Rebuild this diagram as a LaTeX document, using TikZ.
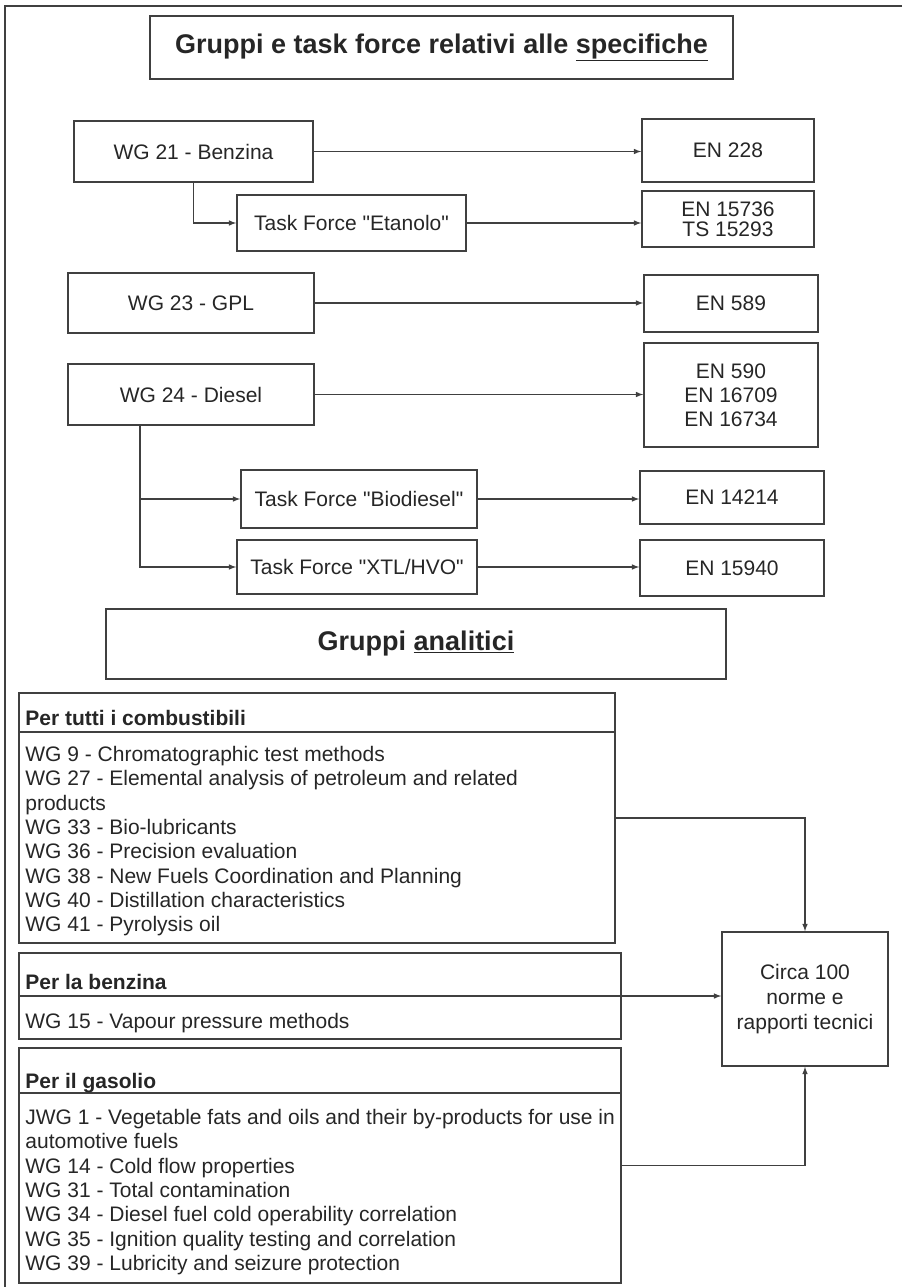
\documentclass[tikz,border=0pt]{standalone}
\usepackage{fontspec}
\setmainfont{Liberation Sans}[Ligatures=TeXOff]
\usepackage{tikz}
\usetikzlibrary{positioning}

\begin{document}
\begin{tikzpicture}[x=1pt,y=-1pt,
  box/.style={draw=black!75,line width=1.6pt,inner sep=0pt,align=center,text=black!85,font=\fontsize{21}{24}\selectfont},
  titlebox/.style={box,font=\fontsize{27}{30}\selectfont\bfseries},
  grpbox/.style={draw=black!75,line width=1.6pt,inner sep=0pt},
  headtext/.style={inner sep=0pt,anchor=base west,text=black!85,font=\fontsize{21}{24}\selectfont\bfseries},
  listtext/.style={inner sep=0pt,anchor=north west,align=left,text=black!85,font=\fontsize{21}{24.3}\selectfont},
  conn/.style={draw=black!75,line width=1.5pt,-latex}]
\useasboundingbox (0,0) rectangle (902,1287);
\draw[black!75,line width=1.8pt] (902,6) -- (5,6) -- (5,1287);

% specifiche
\node[titlebox,minimum width=583pt,minimum height=63pt] (tit1) at (441.5,47.5) {Gruppi e task force relativi alle \underline{specifiche}};
\node[box,minimum width=239pt,minimum height=61pt] (wg21) at (193.5,151.5) {WG 21 - Benzina};
\node[box,minimum width=172pt,minimum height=63pt] (en228) at (728,150.5) {EN 228};
\node[box,minimum width=229pt,minimum height=56pt] (tfeta) at (351.5,223) {Task Force "Etanolo"};
\node[box,minimum width=172pt,minimum height=56pt,font=\fontsize{21}{20}\selectfont] (en15736) at (728,219) {EN 15736\\TS 15293};
\node[box,minimum width=246pt,minimum height=60pt] (wg23) at (191,303) {WG 23 - GPL};
\node[box,minimum width=174pt,minimum height=57pt] (en589) at (731,303.5) {EN 589};
\node[box,minimum width=246pt,minimum height=61pt] (wg24) at (191,394.5) {WG 24 - Diesel};
\node[box,minimum width=174pt,minimum height=104pt] (en590) at (731,395) {EN 590\\EN 16709\\EN 16734};
\node[box,minimum width=236pt,minimum height=58pt] (tfbio) at (359,499) {Task Force "Biodiesel"};
\node[box,minimum width=184pt,minimum height=53pt] (en14214) at (732,497.5) {EN 14214};
\node[box,minimum width=240pt,minimum height=54pt] (tfxtl) at (357,567) {Task Force "XTL/HVO"};
\node[box,minimum width=184pt,minimum height=56pt] (en15940) at (732,568) {EN 15940};

\draw[conn] (wg21.east) -- (wg21.east -| en228.west);
\draw[conn] (wg21.south) |- (tfeta.west);
\draw[conn] (tfeta.east) -- (tfeta.east -| en15736.west);
\draw[conn] (wg23.east) -- (wg23.east -| en589.west);
\draw[conn] (wg24.east) -- (wg24.east -| en590.west);
\draw[conn] ([xshift=-51pt]wg24.south) |- (tfbio.west);
\draw[conn] ([xshift=-51pt]wg24.south) |- (tfxtl.west);
\draw[conn] (tfbio.east) -- (tfbio.east -| en14214.west);
\draw[conn] (tfxtl.east) -- (tfxtl.east -| en15940.west);

% analitici
\node[titlebox,minimum width=620pt,minimum height=70pt] (tit2) at (416,644) {Gruppi \underline{analitici}};
\node[grpbox,minimum width=596pt,minimum height=250pt] (grp1) at (317,818) {};
\node[grpbox,minimum width=602pt,minimum height=86pt] (grp2) at (320,996) {};
\node[grpbox,minimum width=602pt,minimum height=235pt] (grp3) at (320,1165.5) {};
\node[box,minimum width=166pt,minimum height=134pt,font=\fontsize{21}{25}\selectfont] (circa) at (805,999) {Circa 100\\norme e\\rapporti tecnici};

\coordinate (sep1) at ([yshift=-40pt]grp1.north west);
\coordinate (sep2) at ([yshift=-44pt]grp2.north west);
\coordinate (sep3) at ([yshift=-46pt]grp3.north west);
\draw[black!75,line width=1.6pt] (sep1) -- (sep1 -| grp1.east);
\draw[black!75,line width=1.6pt] (sep2) -- (sep2 -| grp2.east);
\draw[black!75,line width=1.6pt] (sep3) -- (sep3 -| grp3.east);

\node[headtext] (head1) at ([shift={(7pt,7pt)}]sep1) {Per tutti i combustibili};
\node[headtext] (head2) at ([shift={(7pt,7pt)}]sep2) {Per la benzina};
\node[headtext] (head3) at ([shift={(7pt,5pt)}]sep3) {Per il gasolio};
\node[listtext,below right=14pt and 7pt of sep1] (list1) {WG 9 - Chromatographic test methods\\
WG 27 - Elemental analysis of petroleum and related\\products\\
WG 33 - Bio-lubricants\\WG 36 - Precision evaluation\\
WG 38 - New Fuels Coordination and Planning\\
WG 40 - Distillation characteristics\\WG 41 - Pyrolysis oil};
\node[listtext,below right=17pt and 7pt of sep2] (list2) {WG 15 - Vapour pressure methods};
\node[listtext,below right=16pt and 7pt of sep3] (list3) {JWG 1 - Vegetable fats and oils and their by-products for use in\\automotive fuels\\
WG 14 - Cold flow properties\\WG 31 - Total contamination\\
WG 34 - Diesel fuel cold operability correlation\\
WG 35 - Ignition quality testing and correlation\\
WG 39 - Lubricity and seizure protection};

\draw[conn] (grp1.east) -| (circa.north);
\draw[conn] (grp2.east) -- (grp2.east -| circa.west);
\draw[conn] (grp3.east) -| (circa.south);
\end{tikzpicture}
\end{document}
